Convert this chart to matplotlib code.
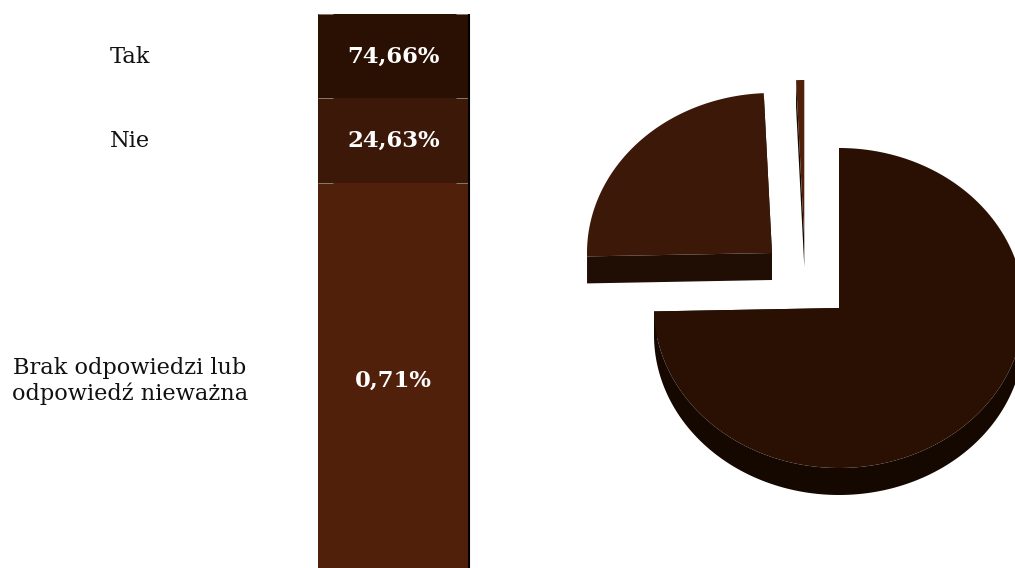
import numpy as np
import matplotlib
matplotlib.use("Agg")
import matplotlib.pyplot as plt

labels = ["Tak", "Nie", "Brak odpowiedzi lub\nodpowiedź nieważna"]
values = [74.66, 24.63, 0.71]
value_labels = ["74,66%", "24,63%", "0,71%"]
row_heights = [84, 85, 385]
top_colors = ["#2a1003", "#3c1808", "#50200a"]
side_colors = ["#140800", "#200d03", "#140800"]
centers = [(839, 308), (772, 253), (804.3, 240)]
text_y = [57, 141, 381]

RX, RY, DEPTH = 185, 160, 27

fig = plt.figure(figsize=(10.15, 5.68), dpi=100, facecolor="white")
ax = fig.add_axes([0, 0, 1, 1])
ax.set_xlim(0, 1015)
ax.set_ylim(568, 0)
ax.axis("off")

# stacked table-like bar
bar_x, bar_w, bar_top = 318, 151, 14
y = bar_top
for lab, vl, h, col, ty in zip(labels, value_labels, row_heights, top_colors, text_y):
    ax.bar(bar_x, h, width=bar_w, bottom=y, align="edge", color=col, linewidth=0, zorder=2)
    ax.hlines(y, bar_x, bar_x + 15, color="#8a7a70", lw=0.7, zorder=3)
    ax.hlines(y, bar_x + bar_w - 13, bar_x + bar_w, color="#8a7a70", lw=0.7, zorder=3)
    ax.text(bar_x + bar_w / 2, ty, vl, color="white", ha="center", va="center",
            family="DejaVu Serif", weight="bold", fontsize=16.4, zorder=4)
    ax.text(130, ty, lab, color="#111111", ha="center", va="center",
            family="DejaVu Serif", fontsize=16.2, linespacing=1.2, zorder=4)
    y += h
ax.vlines(bar_x + bar_w + 0.5, bar_top, 568, color="black", lw=1.5, zorder=3)

# exploded 3D-look pie
def pt(c, a, dy=0):
    return c[0] + RX * np.sin(a), c[1] - RY * np.cos(a) + dy

cum = np.cumsum([0] + values) / sum(values) * 2 * np.pi
order = [2, 1, 0]
for i in order:
    c = centers[i]
    a = np.linspace(cum[i], cum[i + 1], 300)
    # side walls
    x0, y0 = pt(c, a[0])
    x1, y1 = pt(c, a[-1])
    for ex, ey in ((x0, y0), (x1, y1)):
        ax.fill([c[0], ex, ex, c[0]], [c[1], ey, ey + DEPTH, c[1] + DEPTH],
                color=side_colors[i], lw=0, zorder=5)
    # outer wall, only the lower half of the ellipse shows
    lo = a[(np.cos(a) <= 0.02)]
    if lo.size:
        xs, ys = pt(c, lo)
        ax.fill(np.r_[xs, xs[::-1]], np.r_[ys, ys[::-1] + DEPTH],
                color=side_colors[i], lw=0, zorder=5)
    xs, ys = pt(c, a)
    ax.fill(np.r_[c[0], xs], np.r_[c[1], ys], color=top_colors[i], lw=0, zorder=6)

fig.savefig("out.png", dpi=100, facecolor="white")
